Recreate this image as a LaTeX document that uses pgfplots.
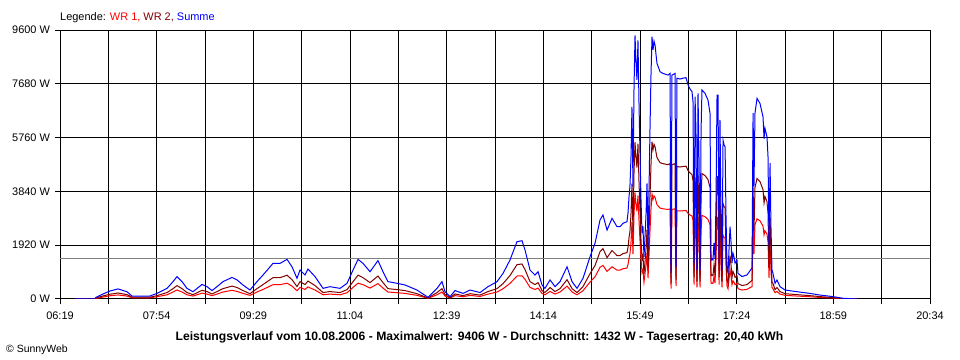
\documentclass[border=0pt]{standalone}
\usepackage{pgfplots}
\pgfplotsset{compat=1.18}
\usepackage{pgfplotstable}
\usepackage{fontspec}
\setmainfont{Liberation Sans}
\definecolor{wrone}{RGB}{255,0,0}
\definecolor{wrtwo}{RGB}{128,0,0}
\definecolor{summe}{RGB}{0,0,255}

% t = minutes after 06:19, S = Summe, W2 = WR 2, W1 = WR 1 (W)
\pgfplotstableread{
t S W2 W1
14.7 0 0 0
34.4 0 0 0
35.4 60 40 20
42.3 180 110 70
49.1 285 170 115
57.0 360 215 145
65.8 260 155 105
70.8 107 65 42
88.4 107 65 42
95.3 200 120 80
105.2 380 230 150
111.1 620 370 250
115.0 800 480 320
119.9 620 370 250
124.8 380 230 150
130.7 260 155 105
139.6 520 310 210
144.5 440 265 175
149.4 300 180 120
154.3 440 265 175
160.2 620 370 250
169.0 770 460 310
174.0 680 410 270
179.8 500 300 200
186.7 320 190 130
193.6 620 370 250
199.5 855 515 340
209.3 1270 760 510
216.2 1270 760 510
223.1 1415 850 565
228.0 1150 690 460
232.9 740 445 295
235.9 1035 620 415
240.8 855 515 340
243.7 1070 640 430
250.6 800 480 320
258.5 380 230 150
265.3 440 265 175
275.2 380 230 150
282.1 560 335 225
288.0 1035 620 415
292.9 1415 850 565
297.8 1270 760 510
304.7 975 585 390
312.5 1370 820 550
317.4 975 585 390
322.3 620 370 250
331.2 560 335 225
339.1 500 300 200
350.8 320 190 130
361.7 60 35 25
370.5 380 230 150
375.4 620 370 250
378.4 260 155 105
383.3 85 50 35
388.2 300 180 120
396.1 200 120 80
402.9 320 190 130
412.8 230 140 90
420.6 440 265 175
429.5 620 370 250
435.4 915 550 365
442.2 1390 835 555
449.1 2045 1225 820
454.0 2080 1250 830
457.0 1750 1050 700
461.9 1035 620 415
466.8 855 515 340
469.8 975 585 390
473.7 500 300 200
476.6 380 230 150
481.6 680 410 270
486.5 440 265 175
491.4 620 370 250
498.3 1150 690 460
503.2 620 370 250
508.1 380 230 150
514.0 740 445 295
520.9 1510 905 605
525.8 1990 1195 795
530.7 2820 1690 1130
533.6 3000 1800 1200
537.6 2460 1475 985
542.5 2880 1730 1150
547.4 2580 1550 1030
550.3 2580 1550 1030
553.3 2700 1620 1080
557.2 2760 1655 1105
558.2 3070 1840 1230
559.2 3650 2190 1460
560.1 4010 2405 1605
561.1 5000 3000 2000
562.1 6860 4115 2745
563.1 4010 2405 1605
564.1 7500 4500 3000
565.1 9406 5600 3806
566.0 8500 5100 3400
567.0 7820 4690 3130
568.0 9230 5540 3690
569.0 7000 4200 2800
570.0 5200 3120 2080
571.0 3500 2100 1400
572.0 2350 1410 940
572.9 2600 1560 1040
573.9 1500 900 600
574.9 2220 1330 890
575.9 3000 1800 1200
576.9 4130 2480 1650
577.9 1870 1120 750
578.9 4000 2400 1600
579.8 6030 3620 2410
580.8 8000 4800 3200
581.8 9360 5615 3745
582.8 8890 5335 3555
583.8 9200 5520 3680
584.8 9060 5435 3625
585.8 8700 5220 3480
586.7 8410 5045 3365
589.7 8110 4865 3245
592.6 8050 4830 3220
597.5 7990 4795 3195
599.5 8050 4830 3220
600.5 930 560 370
601.4 7990 4795 3195
604.4 8050 4830 3220
605.4 1150 690 460
606.3 7880 4730 3150
609.3 7850 4710 3140
612.2 7880 4730 3150
615.2 7900 4740 3160
617.2 7640 4585 3055
619.1 7500 4500 3000
621.1 7400 4440 2960
622.1 7040 4225 2815
623.1 1280 770 510
624.1 7220 4330 2890
625.0 6000 3600 2400
626.0 1035 620 415
627.0 7340 4405 2935
628.0 5000 3000 2000
629.0 1035 620 415
630.0 6000 3600 2400
630.9 7460 4475 2985
633.9 7340 4405 2935
636.8 7100 4260 2840
638.8 6630 3980 2650
639.8 1390 835 555
640.8 1430 860 570
641.7 1390 835 555
642.7 2000 1200 800
643.7 1430 860 570
644.7 3500 2100 1400
645.7 7280 4370 2910
646.7 7280 4370 2910
647.7 1280 770 510
648.6 6390 3835 2555
649.6 3000 1800 1200
650.6 1035 620 415
651.6 5670 3400 2270
652.6 5500 3300 2200
653.6 5430 3260 2170
654.5 3000 1800 1200
655.5 1150 690 460
656.5 915 550 365
657.5 1800 1080 720
658.5 2580 1550 1030
659.5 2000 1200 800
660.4 1280 770 510
661.4 1630 980 650
662.4 1500 900 600
663.4 1280 770 510
665.3 1390 835 555
666.3 915 550 365
670.3 800 480 320
675.2 860 515 345
680.1 1110 665 445
681.1 6630 3980 2650
682.0 4010 2405 1605
683.0 6630 3980 2650
685.0 7160 4300 2860
687.9 6980 4190 2790
690.9 6500 3900 2600
691.9 5720 3430 2290
692.8 6090 3655 2435
694.8 5790 3475 2315
695.8 5080 3050 2030
696.8 1870 1120 750
697.8 4850 2910 1940
698.7 2580 1550 1030
699.7 1035 620 415
700.7 915 550 365
702.7 560 335 225
704.6 680 410 270
707.6 440 265 175
712.5 320 190 130
724.3 260 155 105
737.1 200 120 80
747.0 140 85 55
759.7 85 50 35
769.5 25 15 10
783.3 0 0 0
}\data

\begin{document}
\begin{tikzpicture}
\useasboundingbox (0bp,0bp) rectangle (960bp,360bp);
\begin{axis}[
  at={(60bp,61bp)}, anchor=south west,
  scale only axis, width=870bp, height=269bp,
  xmin=0, xmax=855, ymin=0, ymax=9600,
  xtick={0,47.5,95,142.5,190,237.5,285,332.5,380,427.5,475,522.5,570,617.5,665,712.5,760,807.5,855},
  xticklabels={06:19,,07:54,,09:29,,11:04,,12:39,,14:14,,15:49,,17:24,,18:59,,20:34},
  ytick={0,1920,3840,5760,7680,9600},
  yticklabels={0 W,1920 W,3840 W,5760 W,7680 W,9600 W},
  grid=major,
  major grid style={black, line width=1bp},
  axis line style={black, line width=1bp},
  tick style={black, line width=1bp},
  tick align=outside, major tick length=5bp,
  tick pos=left,
  ticklabel style={font=\fontsize{11}{13}\selectfont},
  xticklabel style={yshift=-4bp},
  yticklabel style={xshift=-1.5bp},
  scaled ticks=false,
  clip=true,
]
\addplot[gray, line width=1bp] coordinates {(0,1432) (855,1432)};
\addplot[wrone, line width=1bp] table[x=t, y=W1] {\data};
\addplot[wrtwo, line width=1bp] table[x=t, y=W2] {\data};
\addplot[summe, line width=1bp] table[x=t, y=S] {\data};
\end{axis}
\node[anchor=base west, inner sep=0pt, font=\fontsize{11}{13}\selectfont] at (60bp,339.3bp)
  {Legende: \textcolor{wrone}{WR 1,} \textcolor{wrtwo}{WR 2,} \textcolor{summe}{Summe}};
\node[anchor=base, inner sep=0pt, font=\fontsize{12.2}{14}\selectfont\bfseries] at (479.5bp,19.3bp)
  {Leistungsverlauf vom 10.08.2006 - Maximalwert: 9406 W - Durchschnitt: 1432 W - Tagesertrag: 20,40 kWh};
\node[anchor=base west, inner sep=0pt, font=\fontsize{10.5}{12}\selectfont] at (6bp,7.3bp)
  {\textcopyright{} SunnyWeb};
\end{tikzpicture}
\end{document}
